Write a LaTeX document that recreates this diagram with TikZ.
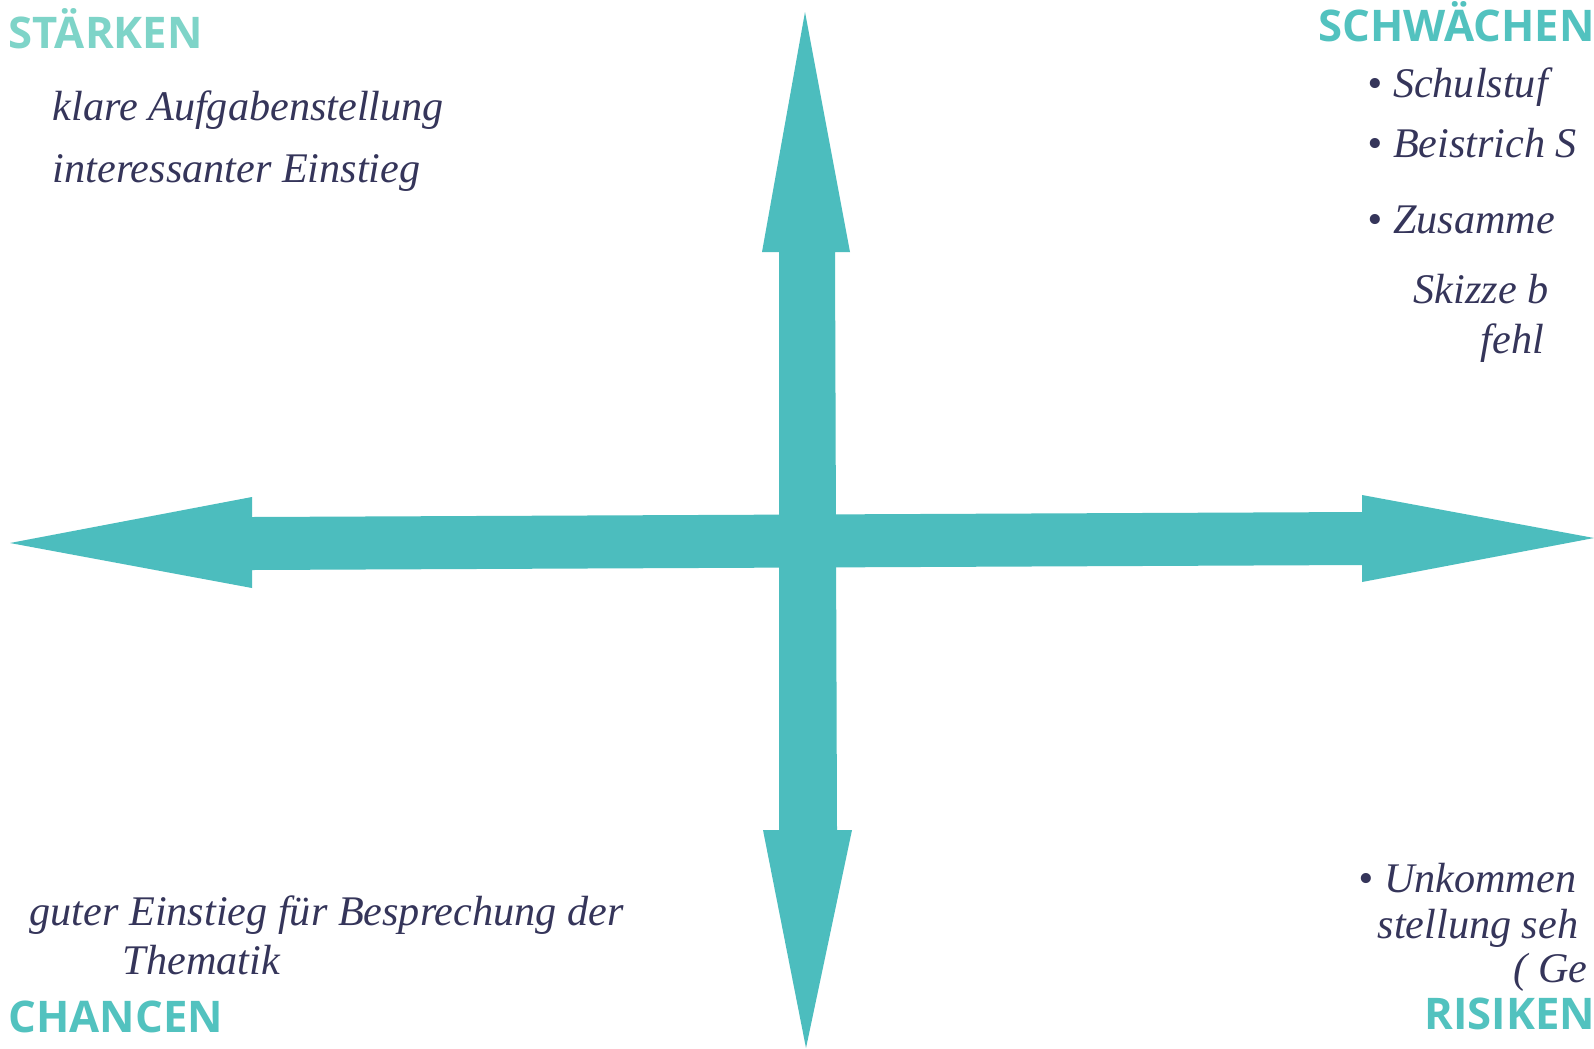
\documentclass[tikz,border=0pt]{standalone}
\usepackage{fontspec}
\setmainfont{Open Sans}
\newfontfamily\hand{Liberation Serif}
\definecolor{arrowteal}{HTML}{4CBDBE}
\definecolor{lightteal}{HTML}{7ED4C8}
\definecolor{labteal}{HTML}{52C2BF}
\definecolor{ink}{HTML}{35355A}
\begin{document}
\begin{tikzpicture}[x=0.01cm,y=-0.01cm,
  swot/.style={font=\fontsize{12.4}{14}\selectfont\bfseries, inner sep=0pt, anchor=base west},
  note/.style={font=\hand\itshape\fontsize{12}{14}\selectfont, text=ink, inner sep=0pt, anchor=base west},
  arrowfill/.style={fill=arrowteal, draw=none}]
\useasboundingbox (0,0) rectangle (1594,1048);
\clip (0,0) rectangle (1594,1048);
\fill[white] (0,0) rectangle (1594,1048);
% horizontal double arrow
\coordinate (lt) at (10,543);
\coordinate (rt) at (1594,538);
\fill[arrowfill] (lt) -- (252,497) -- (252,517) -- (1362,512) -- (1362,495) -- (rt)
  -- (1362,582) -- (1362,565) -- (252,570) -- (252,588) -- cycle;
% vertical double arrow
\coordinate (tt) at (805,12);
\coordinate (bt) at (806,1048);
\fill[arrowfill] (tt) -- (850,252) -- (835,252) -- (837,830) -- (852,830) -- (bt)
  -- (763,830) -- (779,830) -- (779,252) -- (762,252) -- cycle;
% labels
\node[swot, text=lightteal] (st) at (8,48) {STÄRKEN};
\node[swot, text=labteal] (sw) at (1318,41) {SCHWÄCHEN};
\node[swot, text=labteal] (ch) at (8,1032) {CHANCEN};
\node[swot, text=labteal] (ri) at (1424,1029) {RISIKEN};
% notes
\node[note] (s1) at (52,120) {klare Aufgabenstellung};
\node[note] (s2) at (52,182) {interessanter Einstieg};
\node[note] (w1) at (1367,97) {\textbullet\ Schulstuf};
\node[note] (w2) at (1367,157) {\textbullet\ Beistrich S};
\node[note] (w3) at (1367,233) {\textbullet\ Zusamme};
\node[note] (w4) at (1413,303) {Skizze b};
\node[note] (w5) at (1480,353) {fehl};
\node[note] (c1) at (29,925) {guter Einstieg für Besprechung der};
\node[note] (c2) at (122,974) {Thematik};
\node[note] (r1) at (1358,892) {\textbullet\ Unkommen};
\node[note] (r2) at (1377,938) {stellung seh};
\node[note] (r3) at (1513,982) {( Ge};
\end{tikzpicture}
\end{document}
